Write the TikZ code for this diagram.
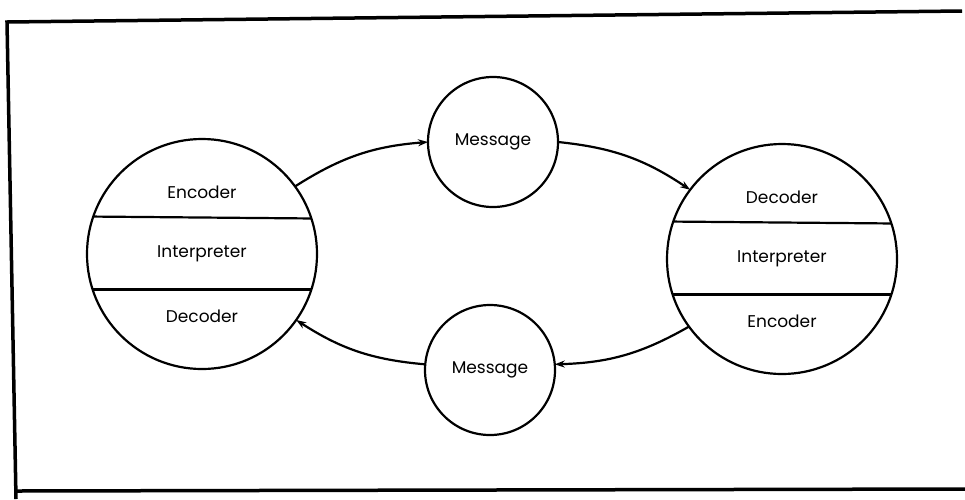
\documentclass[tikz,border=0pt]{standalone}
\usepackage{fontspec}
\setmainfont{Poppins}
\usetikzlibrary{arrows.meta,calc,positioning}
\newcommand\BigSize{230pt}
\newcommand\MsgSize{130pt}
\newcommand\Lift{62}
\tikzstyle{party}=[circle,draw,line width=2.2pt,outer sep=0pt,
                     minimum size=\BigSize,inner sep=0pt]
\tikzstyle{msg}=[circle,draw,line width=2.2pt,outer sep=0pt,
                     minimum size=\MsgSize,inner sep=0pt,font=\fontsize{17}{19}\selectfont]
\tikzstyle{lbl}=[font=\fontsize{17}{19}\selectfont,inner sep=0pt]
\tikzstyle{flow}=[line width=2.2pt,-{Stealth[length=10pt,width=7pt]},bend left=14]
\begin{document}
\begin{tikzpicture}[x=1pt,y=-1pt]
      \useasboundingbox (0,0) rectangle (965,499);
      % frame
      \draw[line width=3.5pt] (16,499) -- (7,22) -- (962,11);
      \draw[line width=3.5pt] (16,491) -- (965,489);
      % sender / receiver
      \node[party] (L) at (202,254) {};
      \node[party] (R) at (782,259) {};
      \node[msg] (Mtop) at (493,142) {Message};
      \node[msg] (Mbot) at (490,370) {Message};
      \draw[line width=2.2pt] (L.161.5) -- (L.18.5);
      \draw[line width=2.2pt] (L.198.5) -- (L.-18.5);
      \draw[line width=2.2pt] (R.161.5) -- (R.18.5);
      \draw[line width=2.2pt] (R.198.5) -- (R.-18.5);
      \node[lbl] (Lenc) at ($(L.center)+(0,-\Lift)$) {Encoder};
      \node[lbl] (Lint) at (L.center) {Interpreter};
      \node[lbl] (Ldec) at ($(L.center)+(0,\Lift)$) {Decoder};
      \node[lbl] (Rdec) at ($(R.center)+(0,-\Lift)$) {Decoder};
      \node[lbl] (Rint) at (R.center) {Interpreter};
      \node[lbl] (Renc) at ($(R.center)+(0,\Lift)$) {Encoder};
      % message flow
      \draw[flow] (L.36) to (Mtop.west);
      \draw[flow] (Mtop.east) to (R.143);
      \draw[flow] (R.-144) to (Mbot.5);
      \draw[flow] (Mbot.175) to (L.-35);
   \end{tikzpicture}
\end{document}
